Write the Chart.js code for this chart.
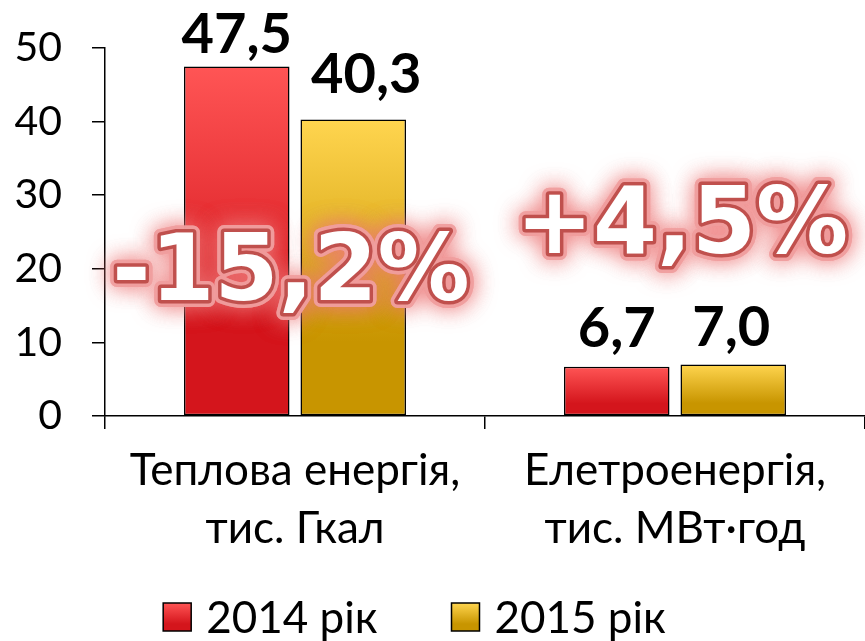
<!DOCTYPE html>
<html><head><meta charset="utf-8">
<script src="https://cdn.jsdelivr.net/npm/chart.js@4"></script>
<style>html,body{margin:0;padding:0;background:#fff}#w{width:865px;height:641px}</style>
</head><body><div id="w"><canvas id="c"></canvas></div>
<script>
const categories = [["Теплова енергія,", "тис. Гкал"], ["Елетроенергія,", "тис. МВт·год"]];
const seriesNames = ["2014 рік", "2015 рік"];
const values2014 = [47.5, 6.7];
const values2015 = [40.3, 7.0];
const changeLabels = ["-15,2%", "+4,5%"];
const changeLevels = [15.8, 22.1];
const yTicks = [0, 10, 20, 30, 40, 50];

const FONT = 'Lato, "Noto Sans", sans-serif';
const grads = [["#FF5555", "#D4151C"], ["#FFD54F", "#C89500"]];

function makeGrad(ctx2d, idx, top, base) {
  const c = grads[idx];
  if (!isFinite(top) || !isFinite(base) || top === base) return c[0];
  const g = ctx2d.createLinearGradient(0, top, 0, base);
  g.addColorStop(0, c[0]); g.addColorStop(0.75, c[1]); g.addColorStop(1, c[1]);
  return g;
}

function barGrad(ctx) {
  const chart = ctx.chart;
  const y = chart.scales.y;
  if (!y || ctx.raw === undefined) return grads[ctx.datasetIndex][0];
  return makeGrad(chart.ctx, ctx.datasetIndex, y.getPixelForValue(ctx.raw), y.getPixelForValue(0));
}

// label nudges (pixels) per dataset/bar: [dx, gap above bar]
const labelNudge = [[[0, 13], [0, 20]], [[13, 26], [-2, 18]]];

const valueLabels = {
  id: 'valueLabels',
  afterDatasetsDraw(chart) {
    const ctx = chart.ctx;
    ctx.save();
    ctx.font = 'bold 56px ' + FONT;
    ctx.fillStyle = '#000';
    ctx.textAlign = 'center';
    ctx.textBaseline = 'alphabetic';
    chart.data.datasets.forEach((ds, di) => {
      chart.getDatasetMeta(di).data.forEach((bar, i) => {
        const n = labelNudge[di][i];
        ctx.fillText(ds.data[i].toFixed(1).replace('.', ','), bar.x + n[0], bar.y - n[1]);
      });
    });
    ctx.restore();
  }
};

const glowText = {
  id: 'glowText',
  afterDatasetsDraw(chart) {
    const ctx = chart.ctx;
    const xs = chart.scales.x, ys = chart.scales.y;
    ctx.save();
    ctx.font = 'bold 92px "DejaVu Sans", Verdana, sans-serif';
    ctx.textAlign = 'center';
    ctx.textBaseline = 'alphabetic';
    ctx.lineJoin = 'round';
    changeLabels.forEach((t, i) => {
      const x = xs.getPixelForValue(i) + (i === 0 ? -4 : 7);
      const y = ys.getPixelForValue(changeLevels[i]);
      ctx.shadowColor = 'rgba(236,120,120,0.8)';
      ctx.shadowBlur = 22;
      ctx.strokeStyle = 'rgba(240,160,160,0.8)';
      ctx.lineWidth = 14;
      ctx.strokeText(t, x, y);
      ctx.strokeText(t, x, y);
      ctx.shadowBlur = 0;
      ctx.shadowColor = 'transparent';
      ctx.strokeStyle = '#C0504D';
      ctx.lineWidth = 7;
      ctx.strokeText(t, x, y);
      ctx.fillStyle = '#fff';
      ctx.fillText(t, x, y);
    });
    ctx.restore();
  }
};

const customLegend = {
  id: 'customLegend',
  afterDraw(chart) {
    const ctx = chart.ctx;
    ctx.save();
    ctx.font = '44px ' + FONT;
    ctx.textBaseline = 'alphabetic';
    ctx.textAlign = 'left';
    const box = 28, boxGap = 15, itemGap = 74;
    const widths = seriesNames.map(n => box + boxGap + ctx.measureText(n).width);
    const total = widths.reduce((a, b) => a + b, 0) + itemGap * (widths.length - 1);
    let x = chart.width / 2 - 18 - total / 2;
    const baseline = 633, boxTop = 603;
    seriesNames.forEach((n, i) => {
      ctx.fillStyle = makeGrad(ctx, i, boxTop, boxTop + box);
      ctx.fillRect(x, boxTop, box, box);
      ctx.strokeStyle = '#000'; ctx.lineWidth = 1.5;
      ctx.strokeRect(x, boxTop, box, box);
      ctx.fillStyle = '#000';
      ctx.fillText(n, x + box + boxGap, baseline);
      x += widths[i] + itemGap;
    });
    ctx.restore();
  }
};

new Chart(document.getElementById('c'), {
  type: 'bar',
  data: {
    labels: categories,
    datasets: [
      { label: seriesNames[0], data: values2014, backgroundColor: barGrad, borderColor: '#000', borderWidth: 1.5, borderSkipped: false },
      { label: seriesNames[1], data: values2015, backgroundColor: barGrad, borderColor: '#000', borderWidth: 1.5, borderSkipped: false }
    ]
  },
  options: {
    responsive: true, maintainAspectRatio: false, animation: false,
    layout: { padding: { top: 48, right: 0, left: 0, bottom: 70 } },
    datasets: { bar: { categoryPercentage: 0.613, barPercentage: 0.906 } },
    plugins: {
      legend: { display: false },
      tooltip: { enabled: false }
    },
    scales: {
      y: {
        min: 0, max: 50,
        afterBuildTicks(s) { s.ticks = yTicks.map(v => ({ value: v })); },
        afterFit(s) { s.width = 105; s.paddingTop = 0; s.paddingBottom = 0; },
        border: { display: true, color: '#000', width: 1.5 },
        grid: { drawOnChartArea: false, drawTicks: true, tickLength: 13, color: '#000', lineWidth: 1.5 },
        ticks: { font: { size: 41, family: FONT }, color: '#000', padding: 30 }
      },
      x: {
        border: { display: true, color: '#000', width: 1.5 },
        grid: { drawOnChartArea: false, drawTicks: true, tickLength: 13, color: '#000', lineWidth: 1.5, offset: true },
        ticks: { font: { size: 44, family: FONT, lineHeight: 1.32 }, color: '#000', padding: 13, maxRotation: 0 },
        afterFit(s) { s.height = 155; s.paddingLeft = 0; s.paddingRight = 0; }
      }
    }
  },
  plugins: [glowText, valueLabels, customLegend]
});
</script></body></html>
